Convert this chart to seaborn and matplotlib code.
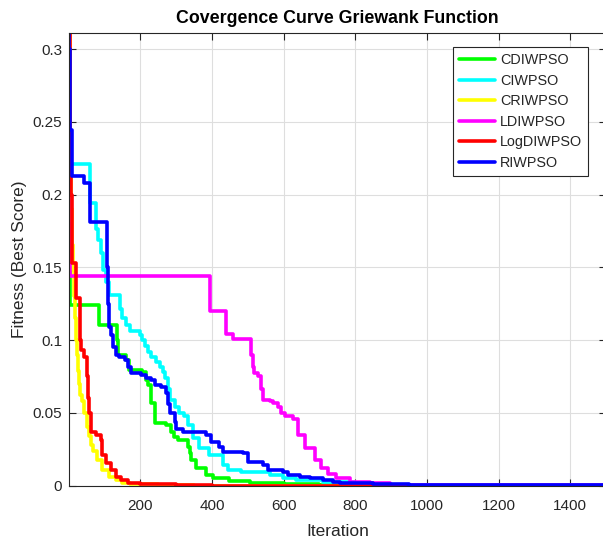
import numpy as np
import pandas as pd
import matplotlib
matplotlib.use("Agg")
import matplotlib.pyplot as plt
import seaborn as sns

# Best-score history of each PSO variant: iteration where the best score changes, and the new value
cdiwpso_iter = [1, 3, 5, 84, 134, 137, 160, 169, 206, 216, 221, 230, 240, 272, 286, 295, 305, 332, 338,
                342, 356, 384, 402, 449, 505, 600, 700, 900, 1500]
cdiwpso_val = [0.150, 0.140, 0.124, 0.110, 0.100, 0.0897, 0.0863, 0.0794, 0.078, 0.0726, 0.069, 0.0565,
               0.0428, 0.0416, 0.037, 0.0336, 0.031, 0.0267, 0.022, 0.0175, 0.012, 0.0072, 0.005,
               0.0033, 0.002, 0.001, 0.0004, 0.0001, 0.0001]

ciwpso_iter = [1, 3, 59, 77, 82, 91, 97, 103, 113, 142, 150, 160, 170, 198, 205, 212, 222, 231, 245,
               254, 262, 268, 278, 282, 296, 309, 322, 332, 346, 365, 393, 430, 444, 480, 561, 598, 636,
               709, 800, 900, 1000, 1500]
ciwpso_val = [0.300, 0.221, 0.194, 0.176, 0.169, 0.160, 0.148, 0.140, 0.131, 0.121, 0.115, 0.110,
              0.106, 0.1035, 0.100, 0.096, 0.092, 0.0886, 0.085, 0.0817, 0.078, 0.074, 0.066, 0.0588,
              0.054, 0.050, 0.048, 0.0416, 0.0327, 0.026, 0.021, 0.014, 0.0107, 0.0095, 0.007, 0.005,
              0.0038, 0.0026, 0.001, 0.0003, 0.0001, 0.0001]

criwpso_iter = [1, 3, 5, 7, 9, 11, 14, 17, 20, 22, 25, 28, 32, 37, 43, 50, 57, 62, 67, 80, 94, 114, 132,
                150, 170, 250, 350, 1500]
criwpso_val = [0.320, 0.260, 0.220, 0.190, 0.165, 0.148, 0.130, 0.115, 0.100, 0.090, 0.079, 0.070, 0.062,
               0.058, 0.050, 0.040, 0.034, 0.028, 0.024, 0.0175, 0.0107, 0.006, 0.0038, 0.002, 0.001,
               0.0003, 0.0, 0.0]

ldiwpso_iter = [1, 2, 3, 395, 440, 459, 510, 514, 518, 528, 536, 542, 561, 570, 584, 593, 603, 626, 640,
                659, 687, 705, 725, 747, 785, 841, 897, 1000, 1500]
ldiwpso_val = [0.250, 0.180, 0.1443, 0.120, 0.104, 0.1005, 0.090, 0.0817, 0.077, 0.075, 0.066, 0.0588,
               0.058, 0.0565, 0.054, 0.0497, 0.048, 0.046, 0.0347, 0.0256, 0.0175, 0.0118, 0.008, 0.005,
               0.0026, 0.0015, 0.0003, 0.0001, 0.0001]

logdiwpso_iter = [1, 3, 5, 7, 8, 9, 20, 31, 33, 35, 43, 50, 55, 58, 62, 76, 90, 93, 104, 118, 132, 146,
                  165, 200, 300, 400, 1500]
logdiwpso_val = [0.420, 0.290, 0.240, 0.200, 0.175, 0.153, 0.129, 0.115, 0.100, 0.093, 0.088, 0.075,
                 0.060, 0.050, 0.037, 0.035, 0.031, 0.021, 0.0155, 0.0107, 0.006, 0.0038, 0.0015,
                 0.0008, 0.0003, 0.0, 0.0]

riwpso_iter = [1, 2, 3, 5, 8, 43, 60, 108, 109, 114, 118, 123, 132, 141, 156, 165, 174, 203, 216, 230,
               240, 258, 272, 276, 282, 296, 300, 319, 384, 398, 421, 430, 486, 500, 542, 556, 598, 612,
               645, 673, 710, 738, 757, 850, 950, 1500]
riwpso_val = [0.340, 0.300, 0.282, 0.244, 0.2129, 0.2078, 0.1808, 0.150, 0.125, 0.109, 0.1035, 0.0955,
              0.0897, 0.0886, 0.0863, 0.0817, 0.077, 0.076, 0.0737, 0.0726, 0.069, 0.068, 0.0634,
              0.056, 0.0497, 0.0439, 0.039, 0.037, 0.0347, 0.030, 0.0267, 0.0232, 0.0221, 0.0164,
              0.014, 0.0107, 0.0095, 0.0072, 0.006, 0.005, 0.0038, 0.0026, 0.0015, 0.0008, 0.0004,
              0.0004]

algorithms = ["CDIWPSO", "CIWPSO", "CRIWPSO", "LDIWPSO", "LogDIWPSO", "RIWPSO"]
colors = ["#00ff00", "#00ffff", "#ffff00", "#ff00ff", "#ff0000", "#0000ff"]
x_ticks = [200, 400, 600, 800, 1000, 1200, 1400]
y_ticks = [0, 0.05, 0.1, 0.15, 0.2, 0.25, 0.3]
y_tick_labels = ["0", "0.05", "0.1", "0.15", "0.2", "0.25", "0.3"]

histories = [
    (cdiwpso_iter, cdiwpso_val),
    (ciwpso_iter, ciwpso_val),
    (criwpso_iter, criwpso_val),
    (ldiwpso_iter, ldiwpso_val),
    (logdiwpso_iter, logdiwpso_val),
    (riwpso_iter, riwpso_val),
]
frames = []
for name, (its, vals) in zip(algorithms, histories):
    frames.append(pd.DataFrame({"Iteration": its, "Fitness": vals, "Algorithm": name}))
df = pd.concat(frames, ignore_index=True)

sns.set_theme(style="whitegrid")
plt.rcParams["font.family"] = ["Liberation Sans", "DejaVu Sans"]

line_w = 2.6
fig = plt.figure(figsize=(6.03, 5.42), dpi=100)
ax = fig.add_axes([69 / 603, 56.5 / 542, 537 / 603, 452.5 / 542])

sns.lineplot(
    data=df, x="Iteration", y="Fitness", hue="Algorithm", hue_order=algorithms,
    palette=dict(zip(algorithms, colors)), estimator=None, sort=True,
    drawstyle="steps-post", linewidth=line_w, ax=ax, legend=False,
)

ax.set_xlim(1, 1500)
ax.set_ylim(0, 0.311)
ax.set_xticks(x_ticks)
ax.set_yticks(y_ticks)
ax.set_yticklabels(y_tick_labels)

axis_color = "#262626"
ax.set_facecolor("white")
ax.grid(True, color="#dedede", linewidth=0.8)
for side in ["left", "bottom", "top", "right"]:
    ax.spines[side].set_visible(True)
    ax.spines[side].set_color(axis_color)
    ax.spines[side].set_linewidth(0.8)
ax.tick_params(axis="both", which="both", direction="in", length=5, width=0.8,
               colors=axis_color, labelsize=11, top=True, right=True, bottom=True, left=True)
ax.tick_params(axis="x", pad=10)
ax.tick_params(axis="y", pad=5)

ax.set_title("Covergence Curve Griewank Function", fontsize=12.8, fontweight="bold",
             color="black", pad=7)
ax.set_xlabel("Iteration", fontsize=12.5, color=axis_color, labelpad=8)
ax.set_ylabel("Fitness (Best Score)", fontsize=12.5, color=axis_color, labelpad=4)

handles = [plt.Line2D([], [], color=c, linewidth=line_w) for c in colors]
leg = ax.legend(handles, algorithms, loc="upper right", bbox_to_anchor=(0.9665, 0.969),
                borderaxespad=0, fontsize=10.4, frameon=True, fancybox=False, framealpha=1,
                edgecolor=axis_color, handlelength=2.5, handletextpad=0.35, labelspacing=0.45,
                borderpad=0.42)
leg.get_frame().set_linewidth(0.8)
for t in leg.get_texts():
    t.set_color(axis_color)

fig.savefig("out.png", dpi=100)
